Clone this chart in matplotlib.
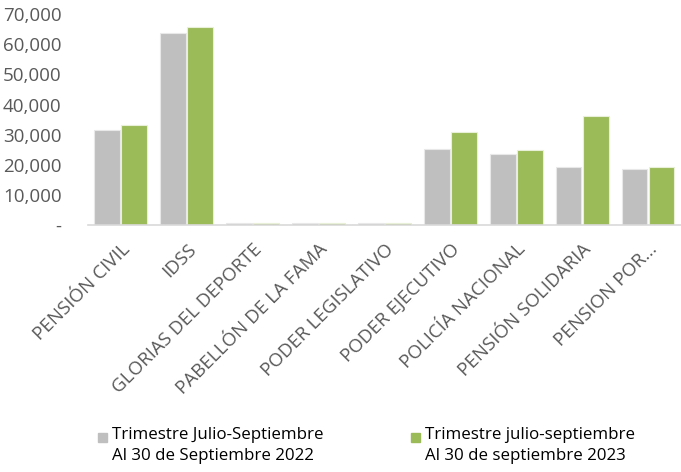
import numpy as np
import matplotlib.pyplot as plt
from matplotlib.ticker import FuncFormatter
from matplotlib.patches import Rectangle

categorias = ["PENSIÓN CIVIL", "IDSS", "GLORIAS DEL DEPORTE", "PABELLÓN DE LA FAMA",
              "PODER LEGISLATIVO", "PODER EJECUTIVO", "POLICÍA NACIONAL",
              "PENSIÓN SOLIDARIA", "PENSION POR..."]
serie_2022 = [31700, 63700, 600, 600, 600, 25300, 23500, 19300, 18500]
serie_2023 = [33100, 65600, 600, 600, 600, 30800, 24800, 36300, 19300]
nombres = ["Trimestre Julio-Septiembre\nAl 30 de Septiembre 2022",
           "Trimestre julio-septiembre\nAl 30 de septiembre 2023"]
colores = ["#bfbfbf", "#9bbb59"]

plt.rcParams['font.family'] = ['Open Sans', 'DejaVu Sans']
gris_txt = "#595959"

W, H = 681, 472
fig = plt.figure(figsize=(W / 100, H / 100), dpi=100)
ax = fig.add_axes([0.129, 0.523, 0.871, 0.447])

x = np.arange(len(categorias))
w = 0.39
ax.bar(x - w/2 - 0.01, serie_2022, w, color=colores[0], edgecolor="#e8e8e8", linewidth=0.8)
ax.bar(x + w/2 + 0.01, serie_2023, w, color=colores[1], edgecolor="#e8f0d8", linewidth=0.8)

ax.set_xlim(-0.5, len(categorias) - 0.5)
ax.set_ylim(0, 70000)
ax.set_yticks(np.arange(0, 70001, 10000))
ax.yaxis.set_major_formatter(FuncFormatter(lambda v, p: "-" if v == 0 else f"{int(v):,}"))
ax.set_xticks(x)
ax.set_xticklabels(categorias, rotation=45, ha="right", rotation_mode="anchor")
ax.tick_params(axis="both", length=0, colors=gris_txt, labelsize=13.5)
ax.tick_params(axis="y", pad=19)
ax.tick_params(axis="x", pad=11)
for lado in ["top", "right", "left"]:
    ax.spines[lado].set_visible(False)
ax.spines["bottom"].set_color("#d9d9d9")
ax.spines["bottom"].set_linewidth(1.2)

# leyenda manual (cuadro alineado con la primera linea)
pos_x = [98, 411]
for px, nombre, c in zip(pos_x, nombres, colores):
    fig.patches.append(Rectangle((px / W, 1 - 442 / H), 9 / W, 9 / H,
                                 transform=fig.transFigure, color=c))
    fig.text((px + 14) / W, 1 - 427 / H, nombre, fontsize=12.2, va="top",
             ha="left", linespacing=1.4, color="#000000")

fig.savefig("out.png", dpi=100)
